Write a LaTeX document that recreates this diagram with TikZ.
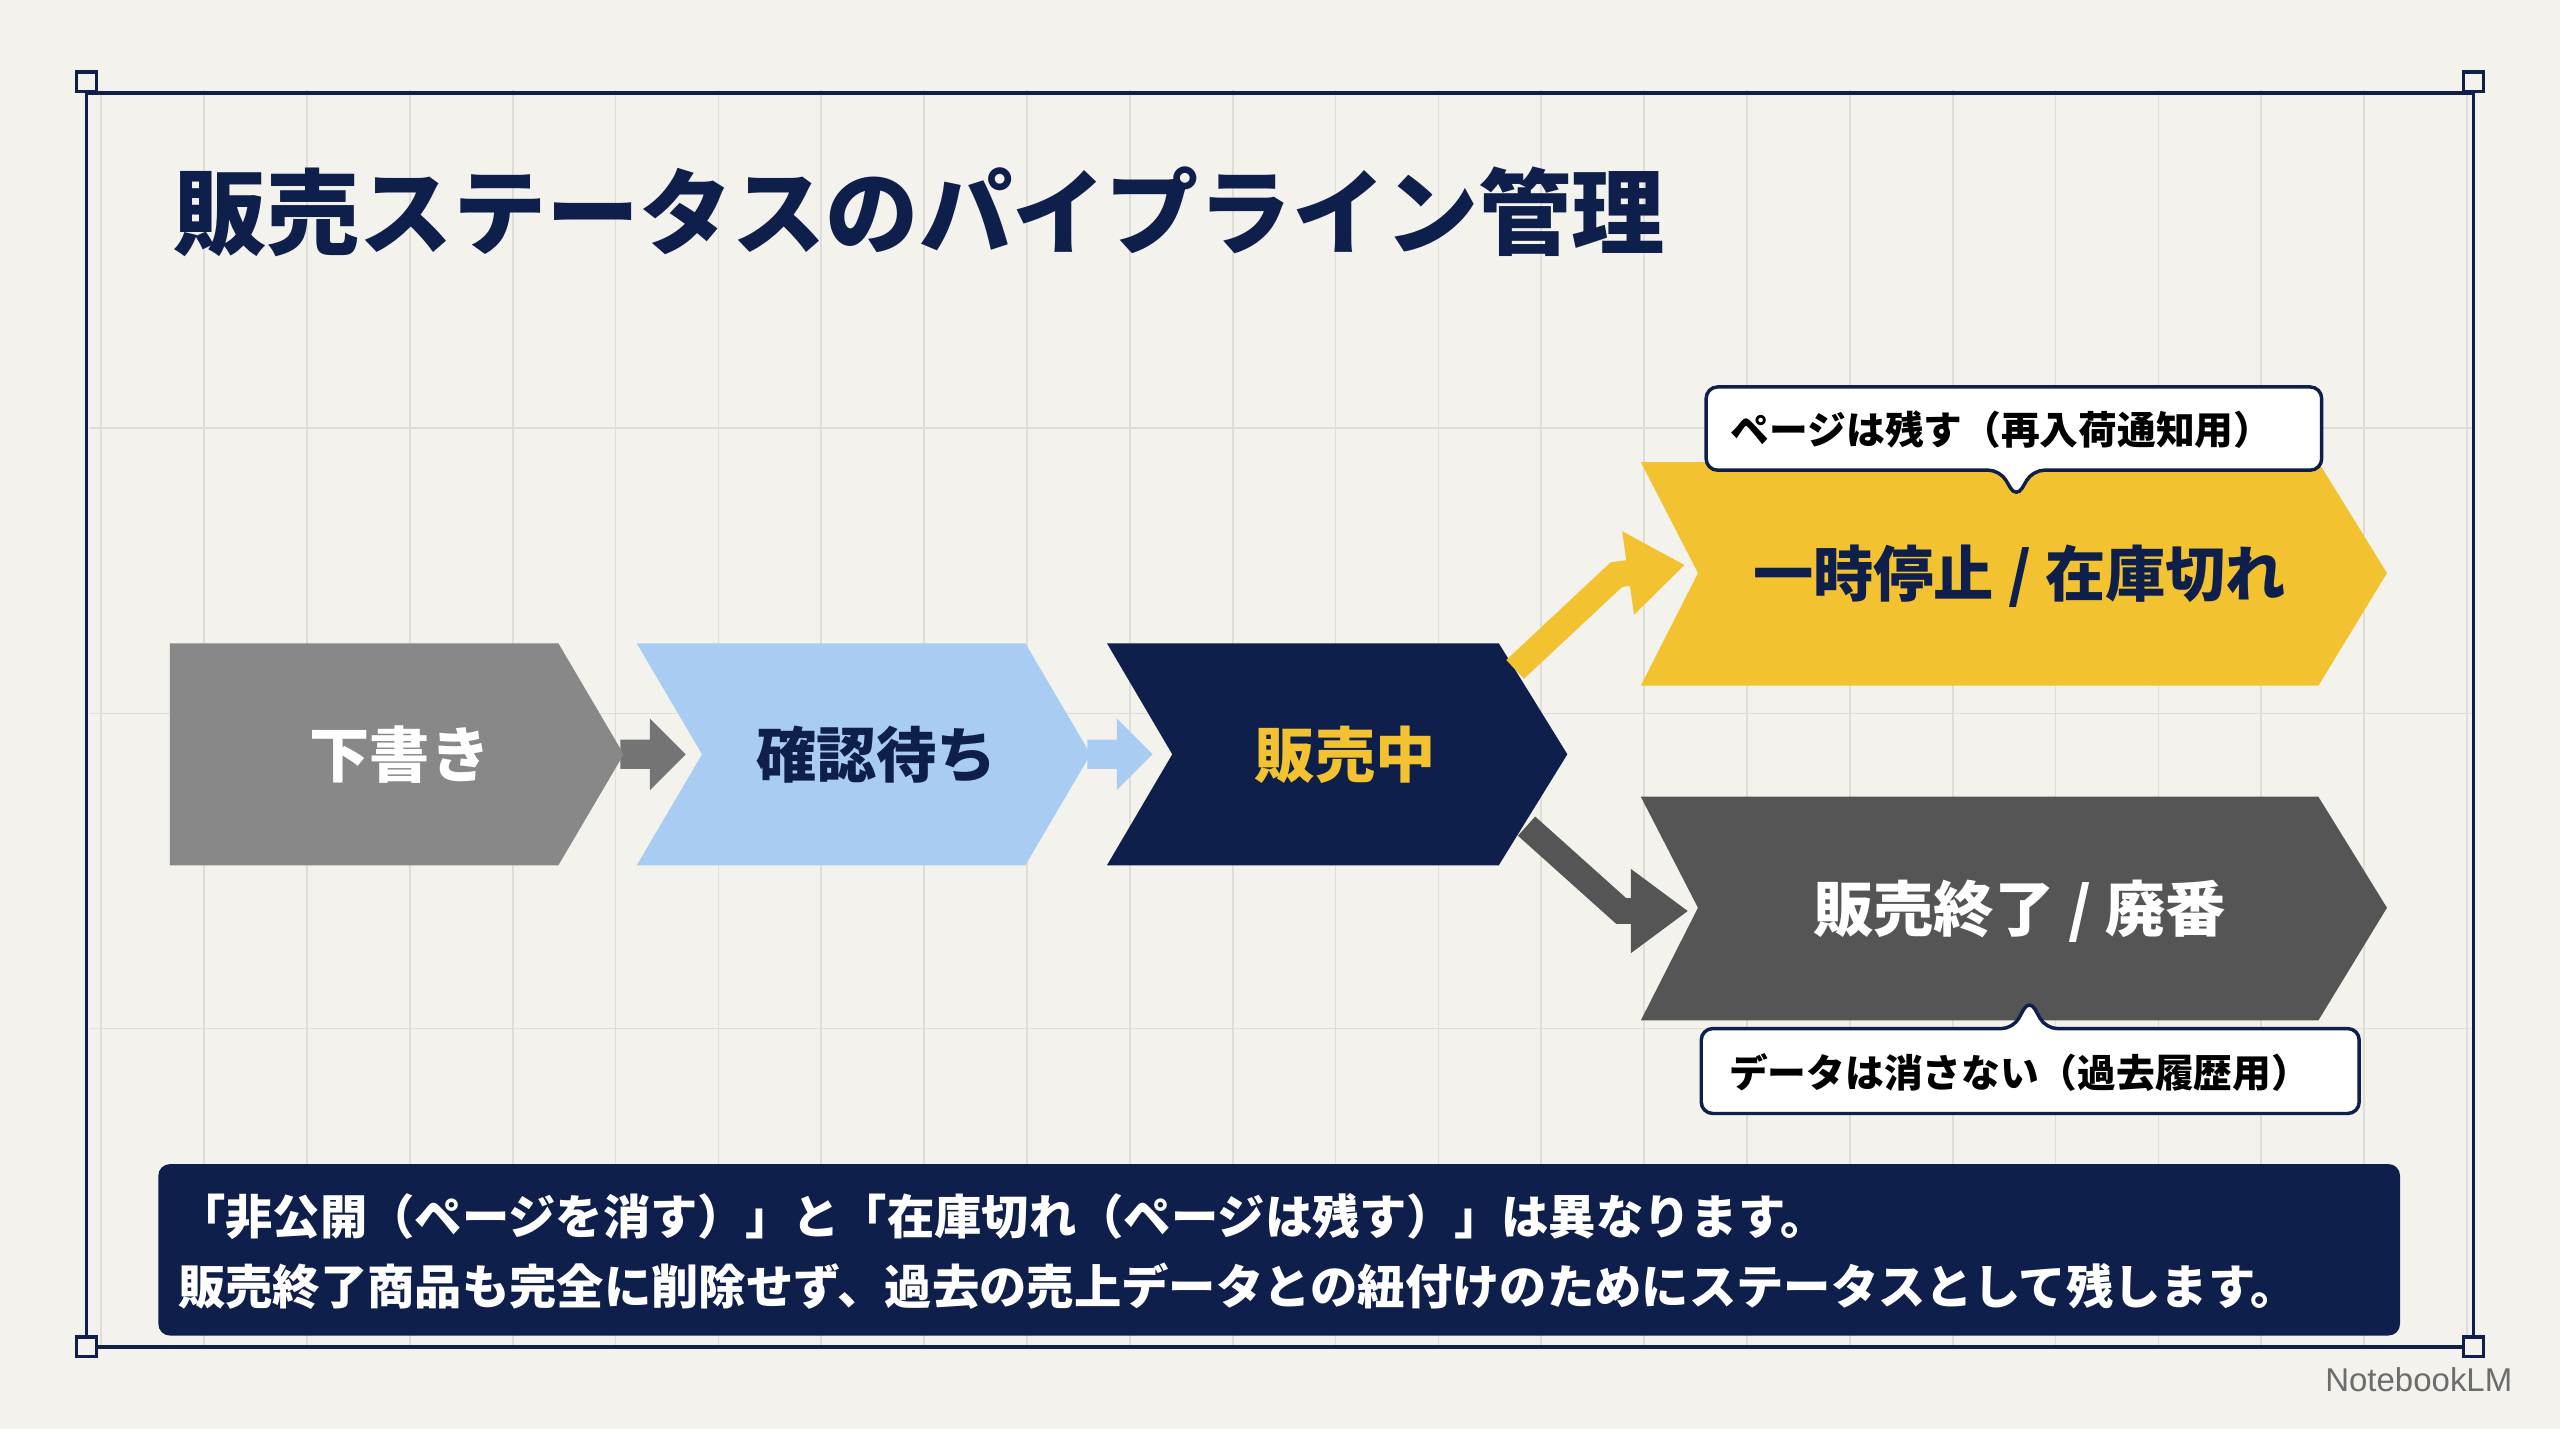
\documentclass[tikz,border=0pt]{standalone}
\usepackage{fontspec}
\setmainfont{Noto Sans CJK JP}
\newfontfamily\wm{Liberation Sans}
\usetikzlibrary{arrows.meta}
\definecolor{bg}{HTML}{F3F2EC}
\definecolor{navy}{HTML}{0F1F4B}
\definecolor{gridc}{HTML}{DEDDD8}
\definecolor{yel}{HTML}{F2C230}
\definecolor{lblue}{HTML}{A9CDF2}
\definecolor{gry}{HTML}{888888}
\definecolor{dgry}{HTML}{555555}
\tikzset{
 lbl/.style={font=\bfseries\fontsize{21pt}{25pt}\selectfont},
 call/.style={draw=navy,line width=1.2pt,fill=white,rounded corners=4pt},
 ctext/.style={font=\bfseries\fontsize{13.5pt}{16pt}\selectfont,text=black},
 band/.style={font=\bfseries\fontsize{16.5pt}{20pt}\selectfont,text=white,anchor=west},
 conn/.style={line width=9pt,-{Triangle[length=20pt,width=28pt]}},
}
\begin{document}
\begin{tikzpicture}[x=0.02cm,y=-0.02cm]
\useasboundingbox (0,0) rectangle (1568,875);
\fill[bg] (0,0) rectangle (1568,875);
\foreach \x in {62,125,...,1515} \draw[gridc,line width=0.6pt] (\x,55) -- (\x,825);
\foreach \y in {262,437,630} \draw[gridc,line width=0.6pt] (55,\y) -- (1515,\y);
\draw[navy,line width=1.3pt] (53,57) rectangle (1515,825);
\foreach \p in {(53,50),(1515,50),(53,825),(1515,825)} \draw[navy,line width=1.2pt,fill=bg] \p ++(-6,-6) rectangle ++(12,12);
\node[anchor=west,text=navy,font=\bfseries\fontsize{32.5pt}{38pt}\selectfont] (title) at (100,130) {販売ステータスのパイプライン管理};
% small arrows
\fill[gry!85!black] (380,453) -- (398,453) -- (398,440) -- (420,462) -- (398,484) -- (398,471) -- (380,471) -- cycle;
\fill[lblue] (666,453) -- (684,453) -- (684,440) -- (706,462) -- (684,484) -- (684,471) -- (666,471) -- cycle;
% chevrons
\fill[gry] (104,394) -- (342,394) -- (382,462) -- (342,530) -- (104,530) -- cycle;
\node[lbl,text=white] (draft) at (245,462) {下書き};
\fill[lblue] (390,394) -- (628,394) -- (668,462) -- (628,530) -- (390,530) -- (430,462) -- cycle;
\node[lbl,text=navy] (check) at (537,462) {確認待ち};
\fill[navy] (678,394) -- (918,394) -- (960,462) -- (918,530) -- (678,530) -- (718,462) -- cycle;
\node[lbl,text=yel] (sale) at (824,462) {販売中};
\fill[yel] (1005,283) -- (1420,283) -- (1462,351) -- (1420,420) -- (1005,420) -- (1040,351) -- cycle;
\node[lbl,text=navy] (pause) at (1237,353) {一時停止 / 在庫切れ};
\fill[dgry] (1005,488) -- (1420,488) -- (1462,556) -- (1420,625) -- (1005,625) -- (1040,556) -- cycle;
\node[lbl,text=white] (end) at (1237,558) {販売終了 / 廃番};
% connectors
\coordinate (y1) at (928,410); \coordinate (y2) at (990,352); \coordinate (y3) at (1032,346);
\draw[conn,yel] (y1) -- (y2) -- (y3);
\coordinate (g1) at (935,506); \coordinate (g2) at (993,558); \coordinate (g3) at (1034,558);
\draw[conn,dgry] (g1) -- (g2) -- (g3);
% callouts
\draw[call] (1045,237) -- (1422,237) -- (1422,288) -- (1245,288) -- (1235,305) -- (1225,288) -- (1045,288) -- cycle;
\node[ctext] (c1) at (1226,263) {ページは残す（再入荷通知用）};
\draw[call] (1042,630) -- (1233,630) -- (1243,612) -- (1253,630) -- (1445,630) -- (1445,682) -- (1042,682) -- cycle;
\node[ctext] (c2) at (1237,657) {データは消さない（過去履歴用）};
% banner
\fill[navy,rounded corners=4pt] (97,713) rectangle (1470,818);
\node[band] (b1) at (103,745) {「非公開（ページを消す）」と「在庫切れ（ページは残す）」は異なります。};
\node[band] (b2) at (103,788) {販売終了商品も完全に削除せず、過去の売上データとの紐付けのためにステータスとして残します。};
\node[anchor=east,text=gry!80!black,font=\wm\fontsize{11.5pt}{13pt}\selectfont] (wm) at (1545,845) {NotebookLM};
\end{tikzpicture}
\end{document}
